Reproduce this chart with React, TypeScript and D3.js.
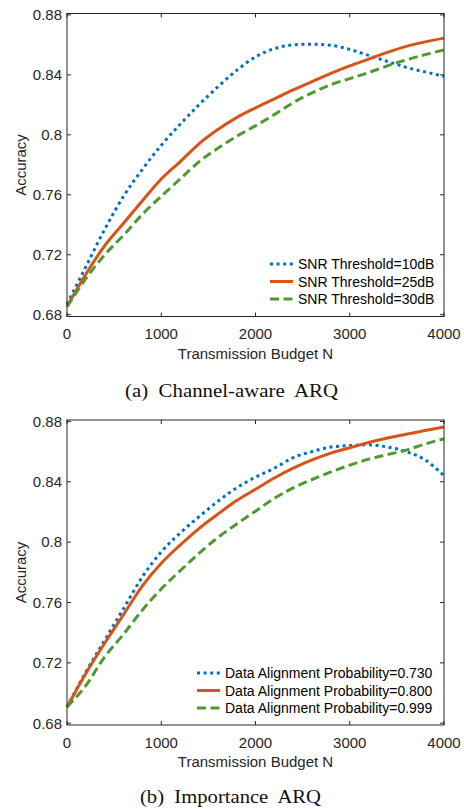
import React from "react";
import * as d3 from "d3";

const budgets = [0, 200, 400, 600, 800, 1000, 1200, 1400, 1600, 1800, 2000, 2200, 2400, 2600, 2800, 3000, 3200, 3400, 3600, 3800, 4000];

// (a) Channel-aware ARQ
const snr10 = [0.687, 0.712, 0.737, 0.759, 0.777, 0.793, 0.807, 0.82, 0.832, 0.843, 0.852, 0.8575, 0.86, 0.8605, 0.8597, 0.857, 0.853, 0.849, 0.845, 0.842, 0.839];
const snr25 = [0.6855, 0.707, 0.726, 0.741, 0.756, 0.7705, 0.782, 0.794, 0.8035, 0.8115, 0.818, 0.824, 0.83, 0.8355, 0.841, 0.846, 0.8505, 0.855, 0.859, 0.862, 0.8645];
const snr30 = [0.6853, 0.704, 0.72, 0.733, 0.747, 0.759, 0.7705, 0.782, 0.791, 0.799, 0.806, 0.8135, 0.8215, 0.828, 0.8335, 0.8375, 0.8415, 0.846, 0.85, 0.8535, 0.8566];

// (b) Importance ARQ
const p730 = [0.6907, 0.714, 0.735, 0.756, 0.777, 0.7935, 0.806, 0.8168, 0.827, 0.836, 0.843, 0.849, 0.856, 0.86, 0.863, 0.864, 0.8645, 0.863, 0.86, 0.8545, 0.844];
const p800 = [0.6907, 0.713, 0.733, 0.752, 0.771, 0.786, 0.798, 0.809, 0.8185, 0.8275, 0.835, 0.8425, 0.849, 0.8545, 0.859, 0.8625, 0.866, 0.869, 0.8715, 0.874, 0.8763];
const p999 = [0.6907, 0.705, 0.724, 0.739, 0.755, 0.769, 0.781, 0.7925, 0.803, 0.812, 0.8205, 0.829, 0.836, 0.8415, 0.8465, 0.851, 0.855, 0.858, 0.861, 0.865, 0.8685];

const xTicks = [0, 1000, 2000, 3000, 4000];
const yTicks = [0.68, 0.72, 0.76, 0.8, 0.84, 0.88];
const yTickLabels = ["0.68", "0.72", "0.76", "0.8", "0.84", "0.88"];

const labelsA = ["SNR Threshold=10dB", "SNR Threshold=25dB", "SNR Threshold=30dB"];
const labelsB = ["Data Alignment Probability=0.730", "Data Alignment Probability=0.800", "Data Alignment Probability=0.999"];

const COLORS = ["#0072BD", "#D95319", "#4E9A2F"];
const DASHES = ["3,3.6", null, "9,4.5"];

const SANS = "'Liberation Sans', Arial, Helvetica, sans-serif";
const SERIF = "'Liberation Serif', 'Times New Roman', serif";
const AX = "#262626";

type PanelProps = {
  top: number;
  bottom: number;
  series: number[][];
  labels: string[];
  legendX: number;
  legendY: number[];
  caption: string;
  captionX: number;
  captionY: number;
  captionLen: number;
};

function Panel({ top, bottom, series, labels, legendX, legendY, caption, captionX, captionY, captionLen }: PanelProps) {
  const left = 67;
  const right = 444;
  const x = d3.scaleLinear().domain([0, 4000]).range([left, right]);
  const pxPerUnit = (bottom - top - 3.2) / 0.2;
  const y = d3
    .scaleLinear()
    .domain([0.68 - 1.8 / pxPerUnit, 0.88 + 1.4 / pxPerUnit])
    .range([bottom, top]);
  const line = d3
    .line<number>()
    .x((_, i) => x(budgets[i]))
    .y((d) => y(d))
    .curve(d3.curveMonotoneX);
  const tl = 4;
  return (
    <g>
      {series.map((s, k) => (
        <path
          key={k}
          d={line(s) || ""}
          fill="none"
          stroke={COLORS[k]}
          strokeWidth={3}
          strokeDasharray={DASHES[k] || undefined}
          strokeLinejoin="round"
        />
      ))}
      <rect x={left} y={top} width={right - left} height={bottom - top} fill="none" stroke={AX} strokeWidth={1} />
      {xTicks.map((t) => (
        <g key={"x" + t}>
          <line x1={x(t)} x2={x(t)} y1={bottom} y2={bottom - tl} stroke={AX} />
          <line x1={x(t)} x2={x(t)} y1={top} y2={top + tl} stroke={AX} />
          <text x={x(t)} y={bottom + 22.5} textAnchor="middle" fontFamily={SANS} fontSize={15} fill={AX}>
            {t}
          </text>
        </g>
      ))}
      {yTicks.map((t, i) => (
        <g key={"y" + t}>
          <line x1={left} x2={left + tl} y1={y(t)} y2={y(t)} stroke={AX} />
          <line x1={right} x2={right - tl} y1={y(t)} y2={y(t)} stroke={AX} />
          <text x={62} y={y(t) + 5.3} textAnchor="end" fontFamily={SANS} fontSize={15} fill={AX}>
            {yTickLabels[i]}
          </text>
        </g>
      ))}
      <text x={(left + right) / 2} y={bottom + 42} textAnchor="middle" fontFamily={SANS} fontSize={15} fill={AX}>
        Transmission Budget N
      </text>
      <text
        transform={`translate(26,${(top + bottom) / 2}) rotate(-90)`}
        textAnchor="middle"
        fontFamily={SANS}
        fontSize={15}
        fill={AX}
      >
        Accuracy
      </text>
      {labels.map((lab, k) => (
        <g key={"l" + k}>
          <line
            x1={legendX - 28}
            x2={legendX - 5}
            y1={legendY[k]}
            y2={legendY[k]}
            stroke={COLORS[k]}
            strokeWidth={3}
            strokeDasharray={DASHES[k] || undefined}
          />
          <text x={legendX} y={legendY[k] + 5} fontFamily={SANS} fontSize={14} fill="#000">
            {lab}
          </text>
        </g>
      ))}
      <text
        x={captionX}
        y={captionY}
        fontFamily={SERIF}
        fontSize={19}
        fill="#111"
        textLength={captionLen}
        lengthAdjust="spacingAndGlyphs"
        style={{ whiteSpace: "pre" }}
      >
        {caption}
      </text>
    </g>
  );
}

export default function App() {
  return (
    <svg
      width={464}
      height={809}
      viewBox="0 0 464 809"
      style={{ position: "absolute", left: 0, top: 0, background: "#fff" }}
    >
      <rect x={0} y={0} width={464} height={809} fill="#fff" />
      <Panel
        top={13.5}
        bottom={316.5}
        series={[snr10, snr25, snr30]}
        labels={labelsA}
        legendX={298}
        legendY={[264, 281.5, 299]}
        caption={"(a)  Channel-aware  ARQ"}
        captionX={125}
        captionY={397}
        captionLen={213}
      />
      <Panel
        top={420}
        bottom={725}
        series={[p730, p800, p999]}
        labels={labelsB}
        legendX={225}
        legendY={[673, 690.5, 708]}
        caption={"(b)  Importance  ARQ"}
        captionX={140}
        captionY={803}
        captionLen={181}
      />
    </svg>
  );
}
